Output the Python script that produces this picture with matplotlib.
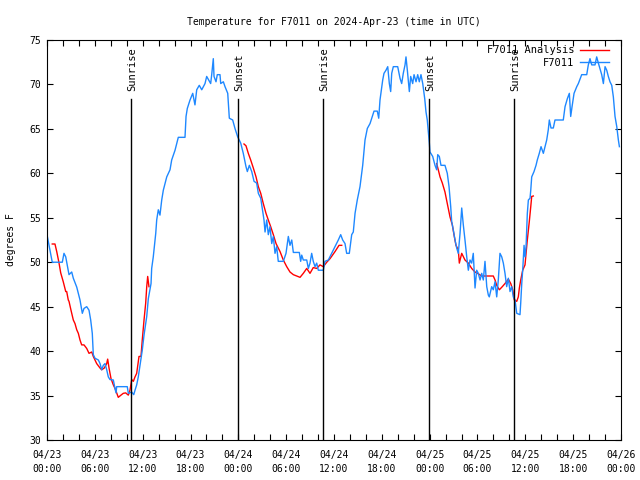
import matplotlib
matplotlib.use('Agg')
import matplotlib.pyplot as plt
from matplotlib.ticker import MultipleLocator

# hours since 2024-04-23 00:00 UTC, temperature in degrees F
obs_hours = [0.0, 0.66, 1.92, 2.13, 2.35, 2.76, 3.10, 3.30, 3.73, 4.14, 4.43, 4.64, 4.98, 5.27, 5.48,
             5.68, 5.81, 6.02, 6.44, 6.65, 6.86, 7.06, 7.28, 7.49, 7.69, 7.90, 8.32, 8.53, 8.66, 8.74,
             10.07, 10.20, 10.62, 10.88, 11.04, 11.25, 11.45, 11.67, 11.95, 12.17, 12.51, 12.71, 13.05,
             13.13, 13.33, 13.64, 13.76, 13.96, 14.17, 14.39, 14.59, 15.02, 15.43, 15.64, 16.06, 16.47,
             17.31, 17.44, 17.60, 17.94, 18.28, 18.56, 18.78, 19.10, 19.41, 19.82, 20.03, 20.53, 20.66,
             20.86, 20.95, 21.20, 21.36, 21.70, 21.79, 22.12, 22.33, 22.67, 22.87, 23.29, 23.58, 23.92,
             24.30, 24.62, 24.96, 25.13, 25.38, 25.68, 25.97, 26.30, 26.51, 26.81, 27.22, 27.35, 27.56,
             27.76, 27.97, 28.19, 28.39, 28.60, 28.81, 29.01, 29.64, 29.98, 30.27, 30.48, 30.70, 30.90,
             31.65, 31.82, 31.95, 32.15, 32.58, 32.78, 32.99, 33.20, 33.40, 33.62, 33.83, 34.03, 34.66,
             34.87, 35.29, 35.71, 36.13, 36.54, 36.84, 37.09, 37.38, 37.59, 37.92, 38.22, 38.42, 38.64,
             38.92, 39.26, 39.60, 39.89, 40.18, 40.52, 40.73, 41.02, 41.43, 41.61, 41.77, 42.11, 42.27,
             42.52, 42.74, 42.94, 43.11, 43.24, 43.44, 43.99, 44.28, 44.49, 44.69, 44.91, 45.03, 45.20,
             45.45, 45.62, 45.87, 46.04, 46.29, 46.50, 46.70, 46.91, 47.13, 47.38, 47.54, 47.70, 47.83,
             47.96, 48.04, 48.38, 48.67, 48.88, 49.01, 49.21, 49.42, 49.92, 50.21, 50.43, 50.64, 50.76,
             50.97, 51.18, 51.39, 51.59, 51.81, 52.02, 52.22, 52.43, 52.65, 52.85, 53.06, 53.27, 53.47,
             53.69, 53.90, 54.10, 54.32, 54.53, 54.73, 54.94, 55.16, 55.36, 55.48, 55.78, 55.98, 56.20,
             56.41, 56.61, 56.82, 57.04, 57.24, 57.45, 57.66, 57.87, 58.08, 58.29, 58.49, 58.71, 58.92,
             59.33, 59.42, 59.55, 59.67, 59.84, 59.96, 60.09, 60.25, 60.38, 60.59, 60.68, 60.80, 61.09,
             61.34, 61.50, 61.75, 61.97, 62.26, 62.47, 62.68, 62.88, 63.01, 63.22, 63.51, 63.72, 64.76,
             64.98, 65.27, 65.52, 65.69, 65.86, 66.11, 66.45, 66.65, 67.07, 67.70, 67.90, 68.11, 68.33,
             68.74, 68.95, 69.16, 69.58, 69.79, 70.00, 70.21, 70.41, 70.62, 70.84, 71.04, 71.25, 71.47,
             71.67, 71.80]
obs_temp = [53.1, 50.0, 50.0, 51.0, 50.6, 48.6, 48.9, 48.2, 47.2, 45.75, 44.25, 44.8, 45.0, 44.6, 43.5,
            42.0, 39.6, 39.2, 39.0, 38.6, 37.9, 38.4, 38.6, 37.9, 37.1, 36.8, 36.75, 35.8, 35.3, 36.0,
            36.0, 35.25, 35.4, 35.1, 35.6, 36.2, 37.1, 38.4, 40.1, 41.8, 43.9, 45.9, 47.6,
            49.3, 50.6, 53.25, 54.75, 55.9, 55.3, 57.0, 58.1, 59.6, 60.4, 61.5, 62.6, 64.05,
            64.05, 66.4, 67.3, 68.25, 69.0, 67.7, 69.4, 69.9, 69.4, 70.1, 70.9, 70.1, 71.1,
            72.9, 70.9, 70.3, 71.1, 71.1, 70.1, 70.3, 69.75, 69.0, 66.2, 66.0, 65.05, 64.1,
            63.4, 62.25, 60.75, 60.2, 60.9, 60.2, 59.1, 58.9, 57.75, 57.2, 54.75, 53.4, 54.75,
            53.1, 54.0, 52.1, 52.9, 51.0, 51.75, 50.1, 50.1, 51.0, 52.9, 51.9, 52.5, 51.1,
            51.1, 50.1, 50.8, 50.25, 50.25, 49.3, 49.9, 51.0, 50.1, 49.5, 49.9, 49.1, 49.1,
            50.1, 50.25, 51.0, 51.75, 52.5, 53.1, 52.5, 52.1, 51.0, 51.0, 53.1, 53.4, 55.5,
            57.0, 58.5, 60.9, 63.75, 65.05, 65.6, 66.2, 67.0, 67.0, 66.2, 68.25, 70.5, 71.25,
            71.6, 72.0, 70.1, 69.2, 71.25, 72.0, 72.0, 70.7, 70.1, 71.25, 72.2, 73.1, 71.6,
            69.2, 70.9, 70.1, 71.1, 70.3, 71.1, 70.3, 71.1, 70.1, 68.4, 66.9, 66.0, 64.7,
            63.4, 62.4, 61.9, 60.9, 60.4, 62.1, 61.9, 60.9, 60.9, 60.0, 58.5, 56.25, 54.6,
            53.6, 52.5, 51.6, 51.0, 53.25, 56.1, 54.2, 52.5, 50.6, 49.1, 50.25, 49.9, 51.0,
            47.1, 49.1, 48.75, 48.0, 48.75, 48.0, 50.1, 47.25, 46.3, 46.1, 47.25, 46.9, 47.8,
            46.1, 48.0, 51.0, 50.6, 49.9, 48.75, 47.25, 48.2, 46.7, 47.25, 46.1, 45.75, 44.25,
            44.1, 45.4, 47.6, 49.1, 51.9, 50.6, 51.75, 55.5, 57.0, 57.2, 58.1, 59.6, 60.2,
            60.9, 61.5, 62.25, 63.0, 62.25, 63.0, 63.75, 64.9, 66.0, 65.1, 65.1, 66.0, 66.0,
            67.5, 68.4, 69.0, 66.4, 67.5, 69.0, 69.75, 70.1, 71.1, 71.1, 72.2, 72.9, 72.2,
            72.2, 73.1, 72.4, 71.1, 70.1, 72.0, 71.6, 70.9, 70.3, 69.9, 68.6, 66.4, 65.25,
            63.75, 63.0]

# analysis runs, one per day
ana1_hours = [0.66, 1.00, 1.22, 1.51, 1.72, 2.04, 2.35, 2.47, 2.67, 2.76, 3.01, 3.30, 3.51, 3.73, 3.93,
              4.14, 4.35, 4.64, 4.98, 5.27, 5.61, 5.81, 6.23, 6.65, 6.86, 7.19, 7.49, 7.61, 7.78, 8.03,
              8.32, 8.53, 8.74, 8.94, 9.28, 9.57, 9.87, 10.20, 10.41, 10.62, 10.83, 11.04, 11.25, 11.54,
              11.79, 11.95, 12.17, 12.38, 12.51, 12.63, 12.79]
ana1_temp = [52.05, 52.05, 51.2, 49.9, 48.8, 47.8, 46.7, 46.7, 45.75, 45.6, 44.6, 43.5, 43.1, 42.4, 42.0,
             41.25, 40.7, 40.7, 40.3, 39.75, 39.9, 39.4, 38.6, 38.1, 37.9, 38.1, 38.6, 39.1, 38.1, 36.9,
             36.2, 35.8, 35.3, 34.8, 35.05, 35.25, 35.3, 35.05, 35.6, 36.8, 36.6, 37.1, 37.5, 39.4,
             39.4, 41.25, 43.5, 45.4, 47.25, 48.4, 47.25]
ana2_hours = [24.71, 24.96, 25.25, 25.55, 25.88, 26.22, 26.51, 26.81, 27.13, 27.47, 27.76, 28.06, 28.39,
              28.73, 29.23, 29.64, 30.07, 30.48, 30.90, 31.32, 31.74, 32.15, 32.58, 32.99, 33.40, 33.83,
              34.24, 34.66, 35.09, 35.50, 36.13, 36.63, 36.97]
ana2_temp = [63.3, 63.1, 62.25, 61.5, 60.6, 59.6, 58.5, 57.75, 56.6, 55.5, 54.75, 54.0, 53.1,
             52.1, 51.2, 50.25, 49.5, 48.9, 48.6, 48.45, 48.3, 48.75, 49.3, 48.75, 49.4, 49.3,
             49.7, 49.5, 50.0, 50.4, 51.2, 51.9, 51.9]
ana3_hours = [48.88, 49.08, 49.30, 49.59, 49.92, 50.21, 50.55, 50.84, 51.09, 51.30, 51.59, 51.72, 52.02,
              52.43, 52.85, 53.27, 53.69, 54.10, 54.53, 55.98, 56.20, 56.41, 56.74, 57.11, 57.45, 57.87,
              58.17, 58.42, 58.62, 58.92, 59.12, 59.25, 59.42, 59.67, 59.96, 60.09, 60.25, 60.50, 60.68,
              60.80, 61.00]
ana3_temp = [61.1, 60.4, 59.6, 58.9, 57.9, 56.6, 55.1, 54.2, 52.9, 51.9, 51.4, 49.9, 51.0,
             50.25, 49.9, 49.3, 48.9, 48.7, 48.45, 48.45, 48.0, 47.4, 46.9, 47.25, 47.6, 48.1,
             47.6, 46.9, 45.75, 45.6, 46.1, 47.1, 48.0, 49.1, 49.7, 51.0, 52.5, 54.6, 56.25,
             57.4, 57.45]

sun_events = ['Sunrise', 'Sunset', 'Sunrise', 'Sunset', 'Sunrise']
sun_hours = [10.55, 23.95, 34.6, 47.9, 58.55]

tick_hours = [0, 6, 12, 18, 24, 30, 36, 42, 48, 54, 60, 66, 72]
tick_labels = ['04/23\n00:00', '04/23\n06:00', '04/23\n12:00', '04/23\n18:00',
               '04/24\n00:00', '04/24\n06:00', '04/24\n12:00', '04/24\n18:00',
               '04/25\n00:00', '04/25\n06:00', '04/25\n12:00', '04/25\n18:00',
               '04/26\n00:00']

plt.rcParams['font.family'] = ['DejaVu Sans Mono']
plt.rcParams['font.size'] = 7

fig = plt.figure(figsize=(6.4, 4.8), dpi=100)
ax = fig.add_axes([47 / 640, 40 / 480, 574 / 640, 400 / 480])

red = '#ff0000'
blue = '#1e88ff'
ax.plot(ana1_hours, ana1_temp, color=red, lw=1.0, label='F7011 Analysis')
ax.plot(ana2_hours, ana2_temp, color=red, lw=1.0)
ax.plot(ana3_hours, ana3_temp, color=red, lw=1.0)
ax.plot(obs_hours, obs_temp, color=blue, lw=1.0, label='F7011')

for name, h in zip(sun_events, sun_hours):
    ax.plot([h, h], [30, 68.4], color='black', lw=1.0)
    ax.text(h + 0.15, 69.3, name, rotation=90, ha='center', va='bottom', fontsize=7.5)

ax.set_xlim(0, 72)
ax.set_ylim(30, 75)
ax.set_xticks(tick_hours)
ax.set_xticklabels(tick_labels, linespacing=1.5)
ax.xaxis.set_minor_locator(MultipleLocator(2))
ax.set_yticks(range(30, 80, 5))
ax.tick_params(which='both', direction='in', top=True, right=True, length=4, width=0.8, pad=4)
ax.tick_params(axis='x', which='major', pad=7)
for s in ax.spines.values():
    s.set_linewidth(0.8)

ax.set_ylabel('degrees F', labelpad=10)
ax.set_title('Temperature for F7011 on 2024-Apr-23 (time in UTC)', fontsize=7, pad=11)

leg = ax.legend(loc='upper right', bbox_to_anchor=(0.988, 1.0), frameon=False, markerfirst=False,
                handlelength=2.8, borderaxespad=0.1, labelspacing=0.25, handletextpad=0.5,
                fontsize=7.5)
for t in leg.get_texts():
    t.set_ha('right')

fig.savefig('out.png', dpi=100)
